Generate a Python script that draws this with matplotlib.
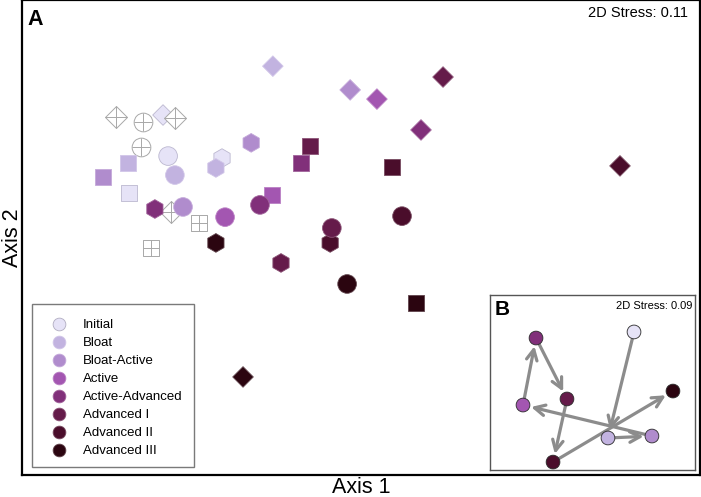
import matplotlib
matplotlib.use('Agg')
import matplotlib.pyplot as plt
from matplotlib.patches import Rectangle
from matplotlib.colors import to_rgb

plt.rcParams['font.family'] = ['Liberation Sans', 'DejaVu Sans']

# ---------------- data ----------------
stages = ['Initial', 'Bloat', 'Bloat-Active', 'Active', 'Active-Advanced',
          'Advanced I', 'Advanced II', 'Advanced III']
stage_colors = ['#e6e3f7', '#c2b3e0', '#b08ccd', '#a356b1', '#81307a',
                '#651b4a', '#4a0d2b', '#2b0510']

# group 1 (circles), one point per stage
circle_x = [-0.569, -0.549, -0.525, -0.401, -0.298, -0.086, 0.121, -0.041]
circle_y = [0.240, 0.184, 0.090, 0.060, 0.096, 0.028, 0.063, -0.137]

# group 2 (squares)
square_x = [-0.684, -0.687, -0.761, -0.263, -0.177, -0.150, 0.091, 0.162]
square_y = [0.131, 0.220, 0.178, 0.125, 0.220, 0.270, 0.208, -0.193]

# group 3 (diamonds)
diamond_x = [-0.584, -0.260, -0.032, 0.047, 0.177, 0.242, 0.764, -0.348]
diamond_y = [0.361, 0.505, 0.435, 0.408, 0.317, 0.473, 0.211, -0.411]

# group 4 (hexagons)
hexagon_stages = ['Initial', 'Bloat', 'Bloat-Active', 'Active-Advanced',
                  'Advanced I', 'Advanced II', 'Advanced III']
hexagon_x = [-0.410, -0.428, -0.324, -0.608, -0.236, -0.091, -0.428]
hexagon_y = [0.234, 0.205, 0.279, 0.084, -0.075, -0.016, -0.016]

# open (crossed) control samples
crossed_diamond_x = [-0.723, -0.549, -0.560]
crossed_diamond_y = [0.355, 0.352, 0.075]
crossed_circle_x = [-0.643, -0.649]
crossed_circle_y = [0.340, 0.267]
crossed_square_x = [-0.478, -0.619]
crossed_square_y = [0.043, -0.031]

# inset B: stage centroids, connected in stage order
inset_x = [0.405, 0.151, 0.580, -0.678, -0.551, -0.249, -0.385, 0.785]
inset_y = [0.491, -0.539, -0.520, -0.219, 0.432, -0.160, -0.773, -0.083]

stress_main = 0.11
stress_inset = 0.09


def rim(c, i):
    if i == 0:
        return '#bcb8d0'
    r, g, b = to_rgb(c)
    return (r + (1 - r) * 0.25, g + (1 - g) * 0.25, b + (1 - b) * 0.25)


color_of = dict(zip(stages, stage_colors))

# ---------------- figure ----------------
W, H = 701, 497
fig = plt.figure(figsize=(W / 100, H / 100), dpi=100)
L, R, T, B = 22, 700, 0, 475
ax = fig.add_axes([L / W, (H - B) / H, (R - L) / W, (B - T) / H])
ax.set_xlim(-1.0, 1.0)
ax.set_ylim(-0.7, 0.7)
ax.set_xticks([])
ax.set_yticks([])
for s in ax.spines.values():
    s.set_linewidth(1.6)
    s.set_color('black')


def axx(px):
    return (px - L) / (R - L)


def axy(py):
    return (B - py) / (B - T)


rims = [rim(c, i) for i, c in enumerate(stage_colors)]

# diamonds
ax.scatter(diamond_x, diamond_y, s=110, marker='D', c=stage_colors,
           edgecolors=rims, linewidths=0.6, zorder=3)

# crossed open markers
gray = '#a8a8a8'
ax.scatter(crossed_diamond_x, crossed_diamond_y, s=125, marker='D',
           facecolors='white', edgecolors=gray, linewidths=0.7, zorder=4)
ax.scatter(crossed_diamond_x, crossed_diamond_y, s=250, marker='+',
           color=gray, linewidths=0.7, zorder=4)
ax.scatter(crossed_circle_x, crossed_circle_y, s=181, marker='o',
           facecolors='white', edgecolors=gray, linewidths=0.7, zorder=4)
ax.scatter(crossed_circle_x, crossed_circle_y, s=181, marker='+',
           color=gray, linewidths=0.7, zorder=4)
ax.scatter(crossed_square_x, crossed_square_y, s=144, marker='s',
           facecolors='white', edgecolors=gray, linewidths=0.7, zorder=4)
ax.scatter(crossed_square_x, crossed_square_y, s=144, marker='+',
           color=gray, linewidths=0.7, zorder=4)

# squares
ax.scatter(square_x, square_y, s=139, marker='s', c=stage_colors,
           edgecolors=rims, linewidths=0.6, zorder=5)

# hexagons
hex_cols = [color_of[s] for s in hexagon_stages]
hex_rims = [rim(color_of[s], stages.index(s)) for s in hexagon_stages]
ax.scatter(hexagon_x, hexagon_y, s=182, marker='h', c=hex_cols,
           edgecolors=hex_rims, linewidths=0.6, zorder=6)

# circles
ax.scatter(circle_x, circle_y, s=180, marker='o', c=stage_colors,
           edgecolors=rims, linewidths=0.6, zorder=7)

# panel texts
ax.text(axx(27), axy(25), 'A', fontsize=15.5, fontweight='bold',
        ha='left', va='baseline', transform=ax.transAxes)
ax.text(axx(688), axy(17), f'2D Stress: {stress_main:.2f}', fontsize=10.5,
        ha='right', va='baseline', transform=ax.transAxes)

fig.text(361 / W, 4 / H, 'Axis 1', fontsize=15.5, ha='center', va='baseline')
fig.text(12 / W, (H - 238) / H, 'Axis 2', fontsize=15.5, ha='center',
         va='center', rotation=90)

# legend (manual box)
lx0, ly0, lx1, ly1 = 32, 304, 194, 467
ax.add_patch(Rectangle((axx(lx0), axy(ly1)), axx(lx1) - axx(lx0),
                       axy(ly0) - axy(ly1), transform=ax.transAxes,
                       facecolor='white', edgecolor='#7a7a7a', lw=1.0,
                       zorder=10))
for i, (name, col) in enumerate(zip(stages, stage_colors)):
    yy = 324 + 18 * i
    ax.scatter([axx(59)], [axy(yy)], s=84, marker='o', c=[col],
               edgecolors='#b0acc0' if i == 0 else rims[i], linewidths=0.6,
               transform=ax.transAxes, zorder=11, clip_on=False)
    ax.text(axx(83), axy(yy), name, fontsize=9.5, ha='left',
            va='center_baseline', transform=ax.transAxes, zorder=11)

# ---------------- inset B ----------------
iL, iR, iT, iB = 490, 695, 295, 470
axi = fig.add_axes([iL / W, (H - iB) / H, (iR - iL) / W, (iB - iT) / H])
axi.set_xlim(-1.0, 1.0)
axi.set_ylim(-0.85, 0.85)
axi.set_xticks([])
axi.set_yticks([])
axi.set_facecolor('white')
for s in axi.spines.values():
    s.set_linewidth(1.0)
    s.set_color('#555555')

for i in range(len(stages) - 1):
    axi.annotate('', xy=(inset_x[i + 1], inset_y[i + 1]),
                 xytext=(inset_x[i], inset_y[i]),
                 arrowprops=dict(arrowstyle='->,head_length=0.75,head_width=0.38',
                                 color='#8c8c8c', lw=2.3,
                                 shrinkA=5, shrinkB=6),
                 zorder=2)
axi.scatter(inset_x, inset_y, s=98, marker='o', c=stage_colors,
            edgecolors='#2a2a2a', linewidths=0.6, zorder=3)
axi.text((495 - iL) / (iR - iL), (iB - 315) / (iB - iT), 'B', fontsize=15,
         fontweight='bold', ha='left', va='baseline', transform=axi.transAxes)
axi.text((692 - iL) / (iR - iL), (iB - 309) / (iB - iT),
         f'2D Stress: {stress_inset:.2f}', fontsize=8, ha='right',
         va='baseline', transform=axi.transAxes)

fig.savefig('out.png', dpi=100)
